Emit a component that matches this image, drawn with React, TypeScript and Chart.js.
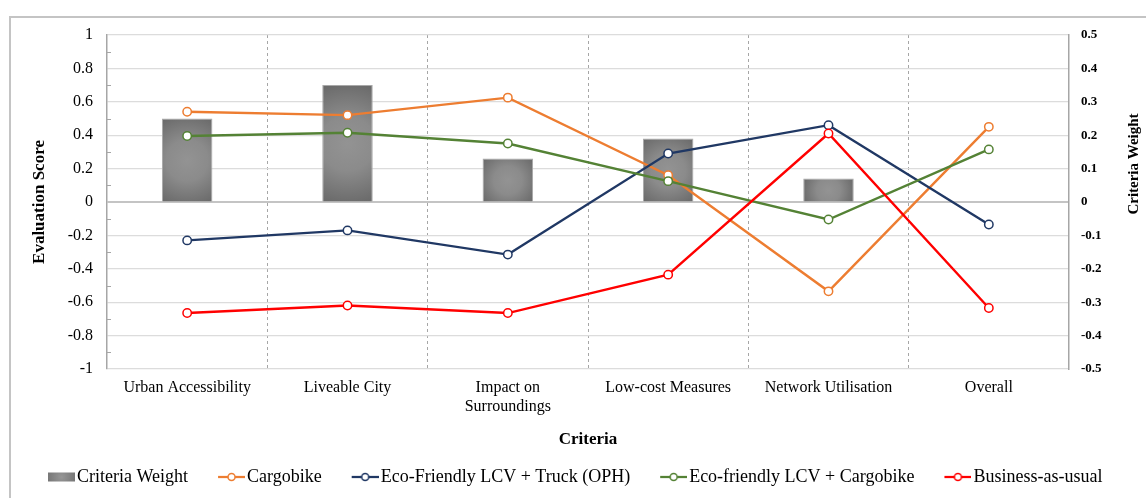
import React, { useEffect, useRef } from "react";
import { Chart, registerables } from "chart.js";

Chart.register(...registerables);

const FONT = '"Liberation Serif", "Times New Roman", serif';

const categories: (string | string[])[] = [
  "Urban Accessibility",
  "Liveable City",
  ["Impact on", "Surroundings"],
  "Low-cost Measures",
  "Network Utilisation",
  "Overall",
];

const criteriaWeight: (number | null)[] = [0.25, 0.35, 0.13, 0.19, 0.07, null];
const cargobike = [0.54, 0.52, 0.625, 0.16, -0.535, 0.45];
const ecoLcvTruck = [-0.23, -0.17, -0.315, 0.29, 0.46, -0.135];
const ecoLcvCargobike = [0.395, 0.415, 0.35, 0.125, -0.105, 0.315];
const businessAsUsual = [-0.665, -0.62, -0.665, -0.435, 0.41, -0.635];

const scoreTicks = [-1, -0.8, -0.6, -0.4, -0.2, 0, 0.2, 0.4, 0.6, 0.8, 1];
const scoreTickLabels = ["-1", "-0.8", "-0.6", "-0.4", "-0.2", "0", "0.2", "0.4", "0.6", "0.8", "1"];
const weightTicks = [-0.5, -0.4, -0.3, -0.2, -0.1, 0, 0.1, 0.2, 0.3, 0.4, 0.5];
const weightTickLabels = ["-0.5", "-0.4", "-0.3", "-0.2", "-0.1", "0", "0.1", "0.2", "0.3", "0.4", "0.5"];
const minorScoreTicks = [-0.9, -0.7, -0.5, -0.3, -0.1, 0.1, 0.3, 0.5, 0.7, 0.9];

const seriesNames = [
  "Criteria Weight",
  "Cargobike",
  "Eco-Friendly LCV + Truck (OPH)",
  "Eco-friendly LCV + Cargobike",
  "Business-as-usual",
];
const seriesColors = ["#808080", "#ED7D31", "#203864", "#548235", "#FF0000"];

function lineSymbol(color: string): HTMLCanvasElement {
  const c = document.createElement("canvas");
  c.width = 34;
  c.height = 12;
  const g = c.getContext("2d")!;
  g.strokeStyle = color;
  g.lineWidth = 2.25;
  g.beginPath();
  g.moveTo(7, 6);
  g.lineTo(34, 6);
  g.stroke();
  g.beginPath();
  g.arc(20.5, 6, 3.5, 0, Math.PI * 2);
  g.fillStyle = "#fff";
  g.fill();
  g.lineWidth = 1.5;
  g.stroke();
  return c;
}

function barSymbol(): HTMLCanvasElement {
  const c = document.createElement("canvas");
  c.width = 34;
  c.height = 12;
  const g = c.getContext("2d")!;
  const grad = g.createRadialGradient(20.5, 6, 0, 20.5, 6, 14);
  grad.addColorStop(0, "#969696");
  grad.addColorStop(1, "#767676");
  g.fillStyle = grad;
  g.fillRect(7, 1.5, 27, 9);
  return c;
}

const barFill = (ctx: any) => {
  const chart = ctx.chart;
  if (!chart.chartArea || ctx.type !== "data") return "#858585";
  const v = ctx.raw;
  if (v == null) return "#858585";
  const xs = chart.scales.x;
  const ys = chart.scales.y1;
  const cx = xs.getPixelForValue(ctx.dataIndex);
  const top = ys.getPixelForValue(v);
  const base = ys.getPixelForValue(0);
  const cy = (top + base) / 2;
  const h = Math.abs(base - top);
  const r = Math.max(Math.hypot(25, h / 2) * 0.95, 1);
  const g = chart.ctx.createRadialGradient(cx, cy, 0, cx, cy, r);
  g.addColorStop(0, "#939393");
  g.addColorStop(0.45, "#8b8b8b");
  g.addColorStop(1, "#6b6b6b");
  return g;
};

const extrasPlugin = {
  id: "extras",
  beforeDatasetsDraw(chart: any) {
    const { ctx, chartArea } = chart;
    const ys = chart.scales.y;
    ctx.save();
    ctx.strokeStyle = "#a6a6a6";
    ctx.lineWidth = 1;
    minorScoreTicks.forEach((v) => {
      const y = Math.round(ys.getPixelForValue(v)) + 0.5;
      ctx.beginPath();
      ctx.moveTo(chartArea.left, y);
      ctx.lineTo(chartArea.left + 4, y);
      ctx.stroke();
    });
    ctx.restore();
  },
  afterDraw(chart: any) {
    const { ctx } = chart;
    ctx.save();
    ctx.translate(1134, 164);
    ctx.rotate(-Math.PI / 2);
    ctx.font = `bold 15px ${FONT}`;
    ctx.fillStyle = "#000";
    ctx.textAlign = "center";
    ctx.textBaseline = "middle";
    ctx.fillText("Criteria Weight", 0, 0);
    ctx.restore();
  },
};

export default function App() {
  const ref = useRef<HTMLCanvasElement | null>(null);

  useEffect(() => {
    if (!ref.current) return;
    const symbols = [
      barSymbol(),
      lineSymbol(seriesColors[1]),
      lineSymbol(seriesColors[2]),
      lineSymbol(seriesColors[3]),
      lineSymbol(seriesColors[4]),
    ];
    const lineDs = (i: number, data: number[], order: number) => ({
      type: "line" as const,
      label: seriesNames[i],
      data,
      yAxisID: "y",
      borderColor: seriesColors[i],
      backgroundColor: seriesColors[i],
      borderWidth: 2.4,
      pointRadius: 4.2,
      pointBorderWidth: 1.5,
      pointBackgroundColor: "#ffffff",
      pointBorderColor: seriesColors[i],
      tension: 0,
      order,
    });

    const chart = new Chart(ref.current, {
      type: "bar",
      data: {
        labels: categories as any,
        datasets: [
          {
            type: "bar",
            label: seriesNames[0],
            data: criteriaWeight,
            yAxisID: "y1",
            backgroundColor: barFill,
            borderColor: "#a8a8a8",
            borderWidth: 1,
            barPercentage: 0.315,
            categoryPercentage: 1,
            order: 10,
          } as any,
          lineDs(1, cargobike, 4),
          lineDs(2, ecoLcvTruck, 3),
          lineDs(3, ecoLcvCargobike, 2),
          lineDs(4, businessAsUsual, 1),
        ],
      },
      options: {
        responsive: false,
        animation: false,
        events: [],
        devicePixelRatio: 1,
        layout: { padding: { left: 18, right: 0, top: 35, bottom: 2 } },
        plugins: {
          tooltip: { enabled: false },
          legend: {
            position: "bottom",
            align: "start",
            labels: {
              usePointStyle: true,
              pointStyleWidth: 20,
              padding: 30,
              color: "#000",
              font: { family: FONT, size: 18 },
              generateLabels: () =>
                seriesNames.map((name, i) => ({
                  text: name,
                  pointStyle: symbols[i] as any,
                  fillStyle: seriesColors[i],
                  strokeStyle: seriesColors[i],
                  lineWidth: 0,
                  hidden: false,
                  datasetIndex: i,
                })),
            },
          },
        },
        scales: {
          x: {
            type: "category",
            offset: true,
            grid: {
              offset: true,
              drawTicks: false,
              lineWidth: 1,
              color: (c: any) =>
                c.type === "tick" && c.index > 0 ? "#a6a6a6" : "rgba(0,0,0,0)",
            },
            border: { display: false, dash: [3, 3] },
            ticks: {
              font: { family: FONT, size: 16 },
              color: "#000",
              padding: 9,
              maxRotation: 0,
              autoSkip: false,
            },
            title: {
              display: true,
              text: "Criteria",
              color: "#000",
              font: { family: FONT, size: 17, weight: "bold" },
              padding: { top: 0, bottom: -12 },
            },
            afterFit: (s: any) => {
              s.height = 69;
            },
          },
          y: {
            position: "left",
            min: -1,
            max: 1,
            afterBuildTicks: (s: any) => {
              s.ticks = scoreTicks.map((v) => ({ value: v }));
            },
            ticks: {
              font: { family: FONT, size: 16 },
              color: "#000",
              padding: 14,
              callback: (_v: any, i: number) => scoreTickLabels[i],
            },
            grid: {
              drawTicks: false,
              color: (c: any) => (c.tick && c.tick.value === 0 ? "#c4c4c4" : "#dcdcdc"),
              lineWidth: (c: any) => (c.tick && c.tick.value === 0 ? 2 : 1.25),
            },
            border: { color: "#a6a6a6", width: 1.5 },
            title: {
              display: true,
              text: "Evaluation Score",
              color: "#000",
              font: { family: FONT, size: 17, weight: "bold" },
              padding: { top: 11, bottom: 0 },
            },
            afterFit: (s: any) => {
              s.width = 89;
            },
          },
          y1: {
            position: "right",
            min: -0.5,
            max: 0.5,
            afterBuildTicks: (s: any) => {
              s.ticks = weightTicks.map((v) => ({ value: v }));
            },
            ticks: {
              font: { family: FONT, size: 13, weight: "bold" },
              color: "#000",
              padding: 12,
              callback: (_v: any, i: number) => weightTickLabels[i],
            },
            grid: { drawOnChartArea: false, drawTicks: false },
            border: { color: "#a6a6a6", width: 1.5 },
            title: { display: false },
            afterFit: (s: any) => {
              s.width = 77;
            },
          },
        },
      } as any,
      plugins: [extrasPlugin],
    });
    return () => chart.destroy();
  }, []);

  return (
    <div
      style={{
        position: "absolute",
        left: 0,
        top: 0,
        width: 1146,
        height: 498,
        overflow: "hidden",
        background: "#fff",
      }}
    >
      <div
        style={{
          position: "absolute",
          left: 9,
          top: 16,
          width: 1300,
          height: 700,
          border: "2px solid #c4c4c4",
        }}
      />
      <canvas
        ref={ref}
        width={1146}
        height={498}
        style={{ position: "absolute", left: 0, top: 0, width: 1146, height: 498 }}
      />
    </div>
  );
}
